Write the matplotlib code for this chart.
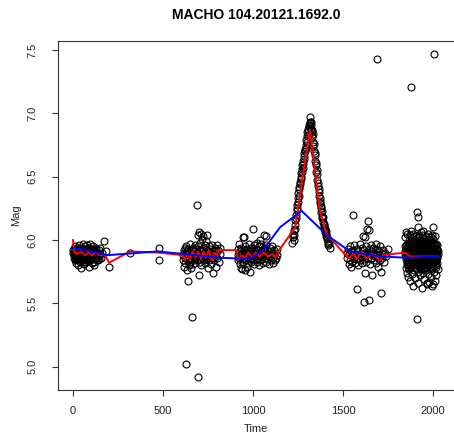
import matplotlib
matplotlib.use("Agg")
import matplotlib.pyplot as plt

plt.rcParams['font.family'] = ['Liberation Sans', 'DejaVu Sans']

title = "MACHO 104.20121.1692.0"
x_ticks = [0, 500, 1000, 1500, 2000]
y_ticks = [5.0, 5.5, 6.0, 6.5, 7.0, 7.5]
y_tick_labels = ["5.0", "5.5", "6.0", "6.5", "7.0", "7.5"]

# observations (time, mag) per season
season1 = [(1,5.90),(3,5.86),(5,5.93),(7,5.88),(9,5.84),(11,5.95),(13,5.89),(15,5.82),(17,5.91),(19,5.87),
           (21,5.94),(23,5.85),(25,5.90),(27,5.80),(29,5.92),(31,5.88),(33,5.96),(35,5.86),(37,5.83),(39,5.91),
           (41,5.89),(43,5.94),(45,5.78),(47,5.87),(49,5.92),(51,5.85),(53,5.90),(55,5.97),(57,5.84),(59,5.88),
           (61,5.93),(63,5.81),(65,5.89),(67,5.95),(69,5.86),(71,5.91),(73,5.83),(75,5.88),(77,5.96),(79,5.90),
           (81,5.85),(83,5.92),(85,5.87),(87,5.79),(89,5.94),(91,5.89),(93,5.84),(95,5.91),(97,5.97),(99,5.86),
           (101,5.88),(103,5.93),(105,5.82),(107,5.90),(109,5.87),(111,5.95),(113,5.85),(115,5.89),(117,5.92),
           (119,5.80),(121,5.88),(124,5.91),(127,5.86),(130,5.93),(133,5.84),(136,5.90),(139,5.87),(142,5.92),
           (145,5.85),(148,5.89),(152,5.94),(157,5.86),(163,5.90),(172,5.99),(181,5.91),(200,5.79)]
season1b = [(2,5.92),(6,5.89),(10,5.87),(14,5.85),(18,5.93),(22,5.88),(26,5.86),(30,5.90),(34,5.84),(38,5.94),
            (42,5.86),(46,5.90),(50,5.88),(54,5.83),(58,5.92),(62,5.87),(66,5.91),(70,5.85),(74,5.93),(78,5.86),
            (82,5.89),(86,5.94),(90,5.84),(94,5.88),(98,5.92),(102,5.85),(106,5.89),(110,5.91),(114,5.83),
            (118,5.88),(122,5.94),(126,5.88),(132,5.90),(138,5.84)]
isolated = [(317,5.90),(478,5.94),(478,5.84)]
season2 = [(611,5.88),(613,5.84),(615,5.92),(617,5.79),(619,5.90),(621,5.86),(623,5.94),(625,5.82),(628,5.02),
           (628,5.89),(630,5.95),(631,5.76),(633,5.87),(635,5.91),(637,5.68),(638,5.84),(640,5.93),(642,5.80),
           (644,5.89),(646,5.86),(648,5.97),(650,5.83),(652,5.90),(654,5.88),(656,5.78),(659,5.39),(660,5.92),
           (662,5.85),(664,5.89),(666,5.81),(668,5.94),(670,5.87),(672,5.91),(674,5.84),(676,5.96),(678,5.89),
           (680,5.82),(682,5.88),(684,5.93),(686,5.86),(689,6.28),(690,5.90),(692,5.84),(693,4.92),(694,5.95),
           (696,6.04),(698,5.87),(700,6.06),(702,5.72),(703,5.91),(705,5.83),(707,5.98),(709,6.05),(711,5.88),
           (713,5.80),(715,6.01),(717,5.92),(719,5.86),(721,5.94),(723,5.89),(725,6.03),(727,5.84),(729,5.90),
           (731,5.96),(733,5.82),(735,5.88),(737,5.93),(739,5.86),(741,5.99),(743,6.04),(745,5.85),(747,5.91),
           (749,5.78),(751,5.89),(753,5.95),(755,5.84),(757,5.90),(760,5.87),(763,5.93),(766,5.81),(769,5.89),
           (772,5.96),(775,5.86),(778,5.74),(781,5.91),(784,5.84),(787,5.88),(790,5.94),(793,5.79),(796,5.90),
           (799,5.96),(802,5.86),(806,5.92),(810,5.83),(814,5.89),(817,5.94)]
season3 = [(915,5.88),(917,5.93),(919,5.84),(921,5.90),(923,5.97),(925,5.86),(927,5.81),(929,5.91),(931,5.78),
           (933,5.88),(935,5.94),(937,5.85),(939,5.77),(941,5.90),(943,5.87),(945,5.83),(947,6.02),(949,5.92),
           (950,6.02),(952,5.86),(954,5.76),(956,5.89),(958,5.95),(960,5.84),(962,5.91),(964,5.79),(966,5.88),
           (968,5.93),(970,5.86),(972,5.90),(974,5.82),(976,5.97),(978,5.87),(980,5.91),(983,5.75),(984,5.85),
           (986,5.89),(988,5.94),(990,5.83),(992,5.88),(994,5.92),(996,5.86),(998,6.09),(1000,5.90),(1002,5.84),
           (1004,5.96),(1006,5.88),(1008,5.81),(1010,5.91),(1012,5.87),(1014,5.93),(1016,5.85),(1018,5.89),
           (1020,5.98),(1022,5.83),(1024,5.90),(1026,5.86),(1028,5.92),(1030,5.88),(1032,5.80),(1034,5.95),
           (1036,5.87),(1039,6.00),(1041,5.84),(1043,5.91),(1045,5.89),(1047,5.97),(1050,5.85),(1053,5.92),
           (1056,5.82),(1059,5.88),(1060,6.04),(1062,5.94),(1065,5.86),(1068,5.90),(1071,5.83),(1074,5.96),
           (1075,6.03),(1077,5.88),(1080,5.92),(1083,5.85),(1086,5.89),(1089,5.81),(1092,5.94),(1095,5.87),
           (1098,5.91),(1101,5.84),(1104,5.90),(1107,5.95),(1110,5.86),(1113,5.82),(1116,5.92),(1119,5.88),
           (1122,5.84),(1125,5.90),(1128,5.86),(1131,5.93),(1133,5.88)]
peak = [(1218,5.98),(1222,6.02),(1224,6.05),(1226,6.00),(1228,6.08),(1230,6.04),(1232,6.12),(1234,6.09),
        (1236,6.16),(1238,6.20),(1240,6.17),(1242,6.25),(1244,6.28),(1246,6.24),(1248,6.33),(1250,6.30),
        (1252,6.37),(1254,6.35),(1256,6.42),(1258,6.40),(1260,6.46),(1262,6.44),(1264,6.50),(1266,6.48),
        (1268,6.53),(1270,6.56),(1272,6.54),(1274,6.59),(1276,6.57),(1278,6.62),(1280,6.60),(1282,6.66),
        (1284,6.64),(1286,6.69),(1288,6.72),(1290,6.70),(1292,6.75),(1294,6.73),(1296,6.79),(1298,6.77),
        (1300,6.82),(1302,6.85),(1304,6.83),(1306,6.88),(1308,6.86),(1310,6.91),(1312,6.89),(1314,6.93),
        (1316,6.92),(1318,6.97),(1319,6.90),
        (1320,6.93),(1322,6.88),(1324,6.91),(1326,6.85),(1328,6.87),(1330,6.81),(1332,6.84),(1334,6.77),
        (1336,6.74),(1338,6.76),(1340,6.70),(1342,6.67),(1344,6.69),(1346,6.62),(1348,6.59),(1350,6.61),
        (1352,6.54),(1354,6.52),(1356,6.55),(1358,6.47),(1360,6.45),(1362,6.43),(1364,6.40),(1366,6.38),
        (1368,6.35),(1370,6.33),(1372,6.31),(1374,6.29),(1376,6.27),(1378,6.25),(1380,6.22),(1382,6.23),
        (1384,6.19),(1386,6.17),(1388,6.18),(1390,6.14),(1392,6.12),(1394,6.13),(1396,6.10),(1398,6.08),
        (1400,6.09),(1402,6.06),(1404,6.05),(1406,6.07),(1408,6.03),(1410,6.01),(1412,6.02),(1414,5.99),
        (1416,5.98),(1419,5.96),(1422,5.97),(1426,5.94)]
season5 = [(1522,5.90),(1525,5.86),(1528,5.93),(1531,5.81),(1534,5.89),(1537,5.95),(1540,5.84),(1543,5.79),
           (1546,5.91),(1549,5.87),(1552,5.83),(1556,6.20),(1557,5.92),(1560,5.86),(1563,5.96),(1566,5.82),
           (1569,5.89),(1572,5.85),(1576,5.61),(1577,5.93),(1580,5.88),(1583,5.80),(1586,5.91),(1589,5.86),
           (1592,5.97),(1595,5.84),(1598,5.90),(1601,5.87),(1604,5.94),(1607,5.82),(1610,5.89),(1613,6.03),
           (1615,5.85),(1617,5.51),(1618,5.92),(1620,5.74),(1622,6.02),(1624,5.88),(1627,5.95),(1630,5.83),
           (1633,5.90),(1636,6.09),(1638,5.86),(1641,6.15),(1642,6.08),(1644,5.53),(1645,5.93),(1648,5.81),
           (1651,5.89),(1654,5.96),(1657,5.85),(1660,5.91),(1663,5.72),(1666,5.88),(1669,5.94),(1672,5.84),
           (1675,5.90),(1678,5.87),(1681,5.97),(1684,5.82),(1687,5.89),(1689,7.43),(1690,5.93),(1693,5.86),
           (1696,5.79),(1699,5.91),(1702,5.88),(1705,5.84),(1708,5.95),(1709,5.58),(1711,5.75),(1714,5.89),
           (1718,5.86),(1722,5.92),(1727,5.83),(1733,5.90),(1740,5.87),(1748,5.93)]
season6 = [(1843,5.91),(1845,5.89),(1846,5.95),(1847,6.02),(1848,5.78),(1850,5.93),(1851,5.85),(1852,6.06),
           (1853,5.88),(1854,5.74),(1855,5.97),(1856,5.83),(1857,5.91),(1858,6.05),(1859,5.80),(1860,5.87),
           (1861,5.95),(1862,5.71),(1863,5.89),(1864,6.00),(1865,5.84),(1866,5.92),(1867,5.77),(1868,5.98),
           (1869,5.86),(1870,6.04),(1871,5.81),(1872,5.90),(1873,5.68),(1874,5.94),(1875,5.85),(1876,7.21),
           (1877,5.88),(1878,6.07),(1879,5.79),(1880,5.96),(1881,5.83),(1882,5.91),(1883,5.73),(1884,6.01),
           (1885,5.87),(1886,5.93),(1887,5.80),(1888,5.97),(1889,5.64),(1890,5.89),(1891,6.05),(1892,5.84),
           (1893,5.92),(1894,5.76),(1895,5.99),(1896,5.86),(1897,6.03),(1898,5.82),(1899,5.90),(1900,5.95),
           (1901,5.70),(1902,5.88),(1903,6.03),(1904,5.85),(1909,6.22),(1906,5.93),(1907,5.78),(1918,6.18),
           (1909,5.38),(1910,5.91),(1911,5.83),(1912,5.98),(1913,5.87),(1914,5.75),(1915,6.02),(1916,5.89),
           (1917,5.81),(1918,6.10),(1919,5.66),(1920,5.86),(1921,6.04),(1922,5.92),(1923,5.79),(1924,5.97),
           (1925,5.84),(1926,5.90),(1927,5.72),(1928,6.00),(1929,5.88),(1930,5.95),(1931,5.82),(1932,6.06),
           (1933,5.77),(1934,5.91),(1935,5.86),(1936,5.99),(1937,5.62),(1938,5.89),(1939,5.94),(1940,5.80),
           (1941,6.04),(1942,5.87),(1943,5.74),(1944,5.96),(1945,5.84),(1946,6.07),(1947,5.92),(1948,5.78),
           (1949,5.90),(1950,5.98),(1951,5.83),(1952,5.69),(1953,5.93),(1954,5.86),(1955,6.01),(1956,5.81),
           (1957,5.89),(1958,5.95),(1959,5.76),(1960,6.03),(1961,5.88),(1962,5.84),(1963,5.97),(1964,5.65),
           (1965,5.91),(1966,5.79),(1967,5.66),(1968,5.86),(1969,5.93),(1970,5.82),(1971,5.99),(1972,5.73),
           (1973,5.90),(1974,5.87),(1975,6.05),(1976,5.80),(1977,5.94),(1978,5.85),(1979,6.02),(1980,5.67),
           (1981,5.92),(1982,5.88),(1983,5.77),(1984,6.00),(1985,5.84),(1986,5.96),(1987,5.71),(1988,5.89),
           (1989,6.02),(1990,5.83),(1991,5.91),(1992,5.64),(1993,5.95),(1994,5.86),(1995,6.04),(1996,5.78),
           (1997,5.90),(1998,5.97),(1999,5.82),(2000,6.10),(2000,5.65),(2001,5.88),(2002,6.01),(2003,5.85),
           (2004,7.47),(2005,5.93),(2006,5.75),(2007,5.89),(2008,5.98),(2009,5.81),(2010,5.92),(2011,5.68),
           (2012,5.87),(2013,6.03),(2014,5.84),(2015,5.95),(2016,5.79),(2017,5.90),(2018,5.72),(2019,5.97),
           (2020,5.86),(2022,5.93),(2024,5.82),(2026,5.89),(2028,5.77),(2030,5.91)]
season6b = [(1849,5.87),(1851,5.96),(1853,5.81),(1855,5.90),(1857,5.86),(1859,5.94),(1861,5.83),(1863,5.79),
            (1865,5.98),(1867,5.88),(1869,5.92),(1871,5.85),(1873,5.96),(1875,5.80),(1877,5.93),(1879,5.87),
            (1881,5.99),(1883,5.84),(1885,5.90),(1887,5.94),(1889,5.82),(1891,5.88),(1893,5.97),(1895,5.81),
            (1897,5.91),(1899,5.85),(1901,5.93),(1903,5.78),(1905,5.89),(1907,5.96),(1909,5.84),(1911,5.92),
            (1913,5.80),(1915,5.88),(1917,5.95),(1919,5.86),(1921,5.82),(1923,5.91),(1925,5.98),(1927,5.85),
            (1929,5.79),(1931,5.90),(1933,5.94),(1935,5.83),(1937,5.88),(1939,5.97),(1941,5.81),(1943,5.92),
            (1945,5.86),(1947,5.99),(1949,5.84),(1951,5.90),(1953,5.78),(1955,5.93),(1957,5.87),(1959,5.96),
            (1961,5.82),(1963,5.89),(1965,5.94),(1967,5.80),(1969,5.88),(1971,5.85),(1973,5.97),(1975,5.83),
            (1977,5.91),(1979,5.86),(1981,5.79),(1983,5.95),(1985,5.89),(1987,5.84),(1989,5.92),(1991,5.98),
            (1993,5.81),(1995,5.87),(1997,5.93),(1999,5.85),(2001,5.79),(2003,5.96),(2005,5.88),(2007,5.83),
            (2009,5.91),(2011,5.86),(2013,5.94),(2015,5.80),(2017,5.89),(2019,5.84),(2021,5.92),(2023,5.87),
            (2025,5.96)]

# red running-mean curve
red_curve = [(0,6.00),(8,5.90),(25,5.89),(45,5.91),(65,5.88),(85,5.90),(105,5.88),(125,5.90),(145,5.88),
             (178,5.88),(200,5.82),(317,5.91),(478,5.90),(611,5.88),(620,5.84),(635,5.90),(650,5.85),
             (665,5.91),(680,5.86),(695,5.91),(710,5.85),(725,5.91),(740,5.86),(755,5.92),(770,5.84),
             (785,5.90),(800,5.87),(806,5.92),(911,5.92),(915,5.84),(935,5.88),(955,5.86),(975,5.90),
             (995,5.86),(1015,5.90),(1035,5.87),(1060,5.90),(1085,5.87),(1110,5.89),(1125,5.86),(1140,5.91),
             (1235,6.10),(1317,6.87),(1370,6.24),(1409,6.05),(1483,5.93),(1530,5.86),(1539,5.86),
             (1557,5.895),(1576,5.85),(1604,5.91),(1631,5.85),(1659,5.895),(1678,5.87),(1705,5.84),
             (1724,5.885),(1743,5.885),(1844,5.90),(1872,5.87),(2030,5.87)]
# blue smooth curve
blue_curve = [(0,5.94),(190,5.88),(472,5.91),(611,5.89),(817,5.86),(983,5.85),(1056,5.92),(1150,6.10),
              (1270,6.23),(1409,6.04),(1539,5.91),(1705,5.87),(1855,5.86),(2030,5.87)]

obs = season1 + season1b + isolated + season2 + season3 + peak + season5 + season6 + season6b
obs_t = [p[0] for p in obs]
obs_m = [p[1] for p in obs]
red_t = [p[0] for p in red_curve]
red_m = [p[1] for p in red_curve]
blue_t = [p[0] for p in blue_curve]
blue_m = [p[1] for p in blue_curve]

W, H = 454, 443
fig = plt.figure(figsize=(W / 100, H / 100), dpi=100)
left, right, top, bottom = 58, 454, 40.7, 389.5
ax = fig.add_axes([left / W, (H - bottom) / H, (right - left) / W, (bottom - top) / H])

ax.plot(obs_t, obs_m, 'o', mfc='none', mec='black', ms=5.0, mew=0.8, zorder=2)
ax.plot(red_t, red_m, color='#ff0000', lw=1.4, zorder=3)
ax.plot(blue_t, blue_m, color='#0000ff', lw=1.4, zorder=4)

ax.set_xlim(-83.3, 2116.7)
ax.set_ylim(4.82, 7.573)
ax.set_xticks(x_ticks)
ax.set_xticklabels([str(v) for v in x_ticks])
ax.set_yticks(y_ticks)
ax.set_yticklabels(y_tick_labels, rotation=90, va='center')

for s in ['left', 'bottom', 'top']:
    ax.spines[s].set_linewidth(0.8)
    ax.spines[s].set_color('#333333')
ax.spines['right'].set_visible(False)

ax.tick_params(axis='both', direction='out', length=4.5, width=0.8, colors='#333333',
               labelcolor='#222222', labelsize=8)
ax.tick_params(axis='x', pad=7.4)
ax.tick_params(axis='y', pad=10)

ax.set_xlabel('Time', fontsize=8, color='#222222')
ax.set_ylabel('Mag', fontsize=8, color='#222222')
ax.xaxis.set_label_coords(0.5, -0.099)
ax.yaxis.set_label_coords(-0.0934, 0.5)

ax.set_title(title, fontsize=10, fontweight='bold', pad=15.6)

fig.savefig('out.png', dpi=100)
